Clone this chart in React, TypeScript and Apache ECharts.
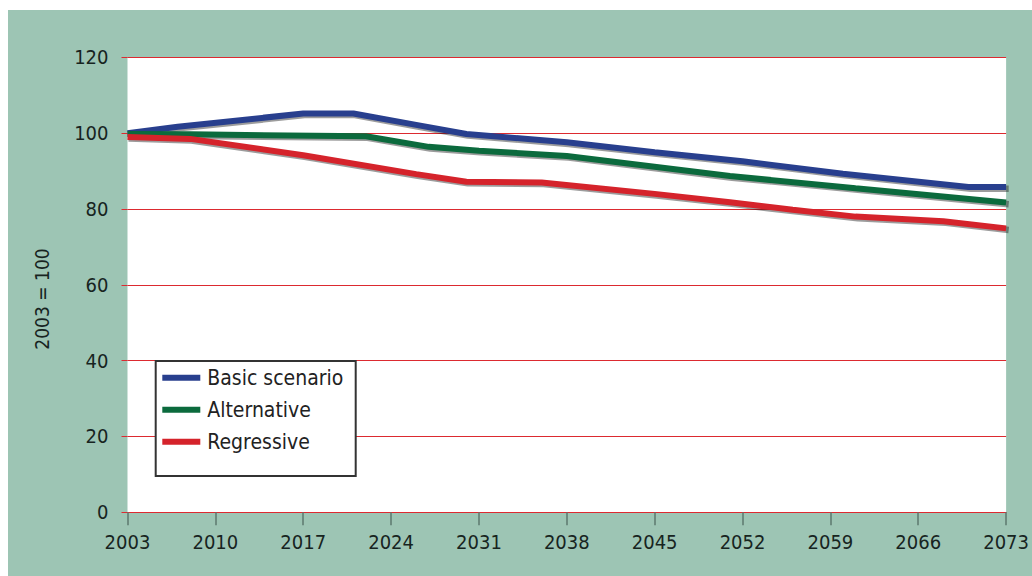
import React, { useEffect, useRef } from "react";
import * as echarts from "echarts";

// Index, 2003 = 100
const BASE_YEAR = 2003;
const X_TICK_YEARS = [2003, 2010, 2017, 2024, 2031, 2038, 2045, 2052, 2059, 2066, 2073];
const Y_TICKS = [0, 20, 40, 60, 80, 100, 120];

const basicYears = [2003, 2007, 2017, 2021, 2026, 2030, 2038, 2045, 2052, 2060, 2070, 2073];
const basicValues = [100, 101.7, 105.2, 105.2, 102.2, 99.8, 97.6, 95.0, 92.6, 89.3, 85.8, 85.8];

const altYears = [2003, 2008, 2022, 2027, 2031, 2038, 2051, 2061, 2073];
const altValues = [99.8, 99.7, 99.2, 96.4, 95.4, 94.0, 88.7, 85.5, 81.7];

const regYears = [2003, 2008, 2017, 2026, 2030, 2036, 2045, 2051, 2056, 2061, 2068, 2073];
const regValues = [99.0, 98.5, 94.2, 89.2, 87.2, 87.0, 84.0, 81.8, 79.8, 78.0, 76.8, 74.9];

const SERIES_NAMES = ["Basic scenario", "Alternative", "Regressive"];
const SERIES_COLORS = ["#283f8e", "#0b6a3d", "#d5232b"];
const Y_AXIS_TITLE = "2003 = 100";

const FONT = "'Liberation Sans Narrow', 'DejaVu Sans Condensed', 'Arial Narrow', sans-serif";
const TEXT_COLOR = "#17241f";
const GRID_RED = "#dc2a30";

const pairs = (years: number[], values: number[]) =>
  years.map((y, i) => [y - BASE_YEAR, values[i]]);

// plot rectangle; the drop-shadow copy sits in a twin grid nudged down-right
const PLOT = { left: 119.5, right: 24.3, top: 47.4, bottom: 63.7 };
const SHADOW_DX = 1;
const SHADOW_DY = 1.6;

export default function App() {
  const ref = useRef<HTMLDivElement>(null);

  useEffect(() => {
    if (!ref.current) return;
    const chart = echarts.init(ref.current, undefined, { renderer: "svg" });

    const datasets = [
      pairs(basicYears, basicValues),
      pairs(altYears, altValues),
      pairs(regYears, regValues),
    ];

    const shadowSeries = datasets.map((data, i) => ({
      type: "line",
      name: SERIES_NAMES[i] + " (shadow)",
      xAxisIndex: 1,
      yAxisIndex: 1,
      data,
      symbol: "none",
      silent: true,
      clip: false,
      z: 2,
      lineStyle: { color: "rgba(20,20,20,0.42)", width: 6.5 },
    }));

    const mainSeries = datasets.map((data, i) => ({
      type: "line",
      name: SERIES_NAMES[i],
      xAxisIndex: 0,
      yAxisIndex: 0,
      data,
      symbol: "none",
      clip: false,
      z: 3,
      itemStyle: { color: SERIES_COLORS[i] },
      lineStyle: { color: SERIES_COLORS[i], width: 6 },
    }));

    const xMax = X_TICK_YEARS[X_TICK_YEARS.length - 1] - BASE_YEAR;
    const xStep = X_TICK_YEARS[1] - X_TICK_YEARS[0];
    const yMin = Y_TICKS[0];
    const yMax = Y_TICKS[Y_TICKS.length - 1];
    const yStep = Y_TICKS[1] - Y_TICKS[0];

    chart.setOption({
      animation: false,
      backgroundColor: "#9dc5b4",
      textStyle: { fontFamily: FONT },
      grid: [
        {
          ...PLOT,
          show: true,
          backgroundColor: "#ffffff",
          borderWidth: 0,
        },
        {
          left: PLOT.left + SHADOW_DX,
          right: PLOT.right - SHADOW_DX,
          top: PLOT.top + SHADOW_DY,
          bottom: PLOT.bottom - SHADOW_DY,
          show: false,
        },
      ],
      xAxis: [
        {
          type: "value",
          gridIndex: 0,
          min: 0,
          max: xMax,
          interval: xStep,
          axisLine: { show: true, lineStyle: { color: GRID_RED, width: 1 } },
          axisTick: { show: true, length: 13, lineStyle: { color: "#5d776e", width: 1.5 } },
          axisLabel: {
            margin: 20,
            fontSize: 20,
            color: TEXT_COLOR,
            fontFamily: FONT,
            formatter: (v: number) => String(v + BASE_YEAR),
          },
          splitLine: { show: false },
        },
        {
          type: "value",
          gridIndex: 1,
          min: 0,
          max: xMax,
          show: false,
        },
      ],
      yAxis: [
        {
          type: "value",
          gridIndex: 0,
          min: yMin,
          max: yMax,
          interval: yStep,
          axisLine: { show: false },
          axisTick: { show: true, length: 6, lineStyle: { color: GRID_RED, width: 1 } },
          axisLabel: { margin: 19, fontSize: 20, color: TEXT_COLOR, fontFamily: FONT },
          splitLine: { show: true, lineStyle: { color: GRID_RED, width: 1 } },
        },
        {
          type: "value",
          gridIndex: 1,
          min: yMin,
          max: yMax,
          show: false,
        },
      ],
      legend: {
        left: 154.3,
        top: 356.7,
        orient: "vertical",
        padding: 0,
        itemGap: 10,
        itemWidth: 38,
        itemHeight: 6,
        icon: "rect",
        z: 10,
        textStyle: { fontSize: 21, lineHeight: 22, color: "#222222", fontFamily: FONT, padding: [0, 0, 0, 2] },
        data: SERIES_NAMES,
      },
      graphic: [
        {
          type: "rect",
          z: 5,
          shape: { x: 147.7, y: 351, width: 200, height: 115 },
          style: {
            fill: "#ffffff",
            stroke: "#333333",
            lineWidth: 2,
          },
        },
        {
          type: "text",
          x: 33.7,
          y: 289,
          rotation: Math.PI / 2,
          style: {
            text: Y_AXIS_TITLE,
            fontSize: 19,
            fontFamily: FONT,
            fill: TEXT_COLOR,
            textAlign: "center",
            textVerticalAlign: "middle",
          },
        },
      ],
      series: [...shadowSeries, ...mainSeries],
    });

    return () => chart.dispose();
  }, []);

  return (
    <div
      ref={ref}
      style={{ position: "fixed", left: 8, top: 10, width: 1024, height: 566 }}
    />
  );
}
